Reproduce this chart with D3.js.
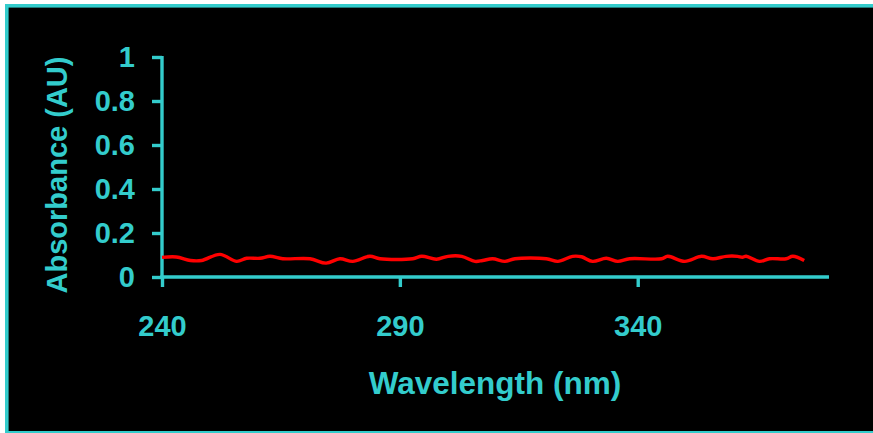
<!DOCTYPE html>
<html lang="en">
  <head>
    <meta charset="utf-8">
    <title>Absorbance spectrum</title>
    <script type="text/javascript" src="https://cdn.jsdelivr.net/npm/d3@7"></script>
    <style type="text/css">
      html, body {
        margin: 0;
        background: black;
        overflow: hidden;
      }
      text {
        font-family: "Liberation Sans", Arial, sans-serif;
        font-weight: bold;
        fill: #33cccc;
      }
    </style>
  </head>
  <body>
    <script type="text/javascript">

      var w = 873;
      var h = 433;

      var wavelengths = [240, 243, 246, 248.3, 252.2, 255.7, 257.8, 260.6, 262.7, 265.4,
                         271.1, 274.5, 277.4, 280.1, 283.7, 285.8, 292.7, 294.6, 297.7, 300.1,
                         303, 305.8, 307.4, 309.5, 312.1, 314.2, 320.8, 323.2, 326.3, 328.2,
                         330.5, 333.4, 335.8, 338.3, 345, 346.3, 349.9, 353.4, 355.8, 358.6,
                         361, 362, 362.8, 365.6, 367.7, 371.2, 372.6, 375];
      var absorbance = [0.089, 0.091, 0.075, 0.075, 0.103, 0.071, 0.085, 0.085, 0.094, 0.083,
                        0.083, 0.063, 0.083, 0.071, 0.094, 0.083, 0.083, 0.094, 0.081, 0.094,
                        0.094, 0.071, 0.075, 0.083, 0.071, 0.083, 0.083, 0.071, 0.094, 0.092,
                        0.071, 0.085, 0.071, 0.083, 0.083, 0.094, 0.071, 0.094, 0.083, 0.094,
                        0.094, 0.090, 0.094, 0.071, 0.083, 0.083, 0.094, 0.075];
      var xTicks = [240, 290, 340];
      var yTicks = [0, 0.2, 0.4, 0.6, 0.8, 1];
      var yTickLabels = ["0", "0.2", "0.4", "0.6", "0.8", "1"];

      var cyan = "#33cccc";

      var xScale = d3.scaleLinear()
              .domain([240, 380])
              .range([162, 828]);

      var yScale = d3.scaleLinear()
              .domain([0, 1])
              .range([277, 57]);

      // svg wider than the window so nothing shows on the right edge
      var svg = d3.select("body")
            .append("svg")
            .attr("width", 1000)
            .attr("height", h)
            .style("display", "block");

      // white margin, cyan frame on left, top and bottom, black panel
      svg.append("rect")
         .attr("width", 1000)
         .attr("height", h)
         .attr("fill", "white");
      svg.append("rect")
         .attr("x", 5)
         .attr("y", 4)
         .attr("width", 1000)
         .attr("height", h - 4)
         .attr("fill", cyan);
      svg.append("rect")
         .attr("x", 8.6)
         .attr("y", 7.6)
         .attr("width", 1000)
         .attr("height", 431 - 7.6)
         .attr("fill", "black");

      var xAxis = d3.axisBottom(xScale)
              .tickValues(xTicks)
              .tickFormat(d3.format("d"))
              .tickSize(10)
              .tickSizeOuter(0)
              .tickPadding(28);

      var yAxis = d3.axisLeft(yScale)
              .tickValues(yTicks)
              .tickFormat(function(d, i) { return yTickLabels[i]; })
              .tickSize(10)
              .tickSizeOuter(0)
              .tickPadding(17);

      var gx = svg.append("g")
         .attr("transform", "translate(0,277)")
         .call(xAxis);

      var gy = svg.append("g")
         .attr("transform", "translate(162,0)")
         .call(yAxis);

      [gx, gy].forEach(function(g) {
        g.selectAll("path, line")
         .attr("stroke", cyan)
         .attr("stroke-width", 3.4);
        g.selectAll("text")
         .attr("fill", cyan)
         .style("font-size", "29px")
         .style("font-family", null);
      });
      gx.select(".domain").attr("d", "M160.3,0H829");
      gy.select(".domain").attr("d", "M0,278.7V56");

      // spectrum
      var line = d3.line()
              .x(function(d, i) { return xScale(wavelengths[i]); })
              .y(function(d) { return yScale(d); })
              .curve(d3.curveCatmullRom);

      svg.append("path")
         .datum(absorbance)
         .attr("d", line)
         .attr("fill", "none")
         .attr("stroke", "#ff0000")
         .attr("stroke-width", 3.4);

      // axis titles
      svg.append("text")
         .attr("x", 495)
         .attr("y", 394)
         .attr("text-anchor", "middle")
         .style("font-size", "31.5px")
         .text("Wavelength (nm)");

      svg.append("text")
         .attr("transform", "translate(67,175) rotate(-90)")
         .attr("text-anchor", "middle")
         .style("font-size", "29px")
         .text("Absorbance (AU)");

    </script>
  </body>
</html>
